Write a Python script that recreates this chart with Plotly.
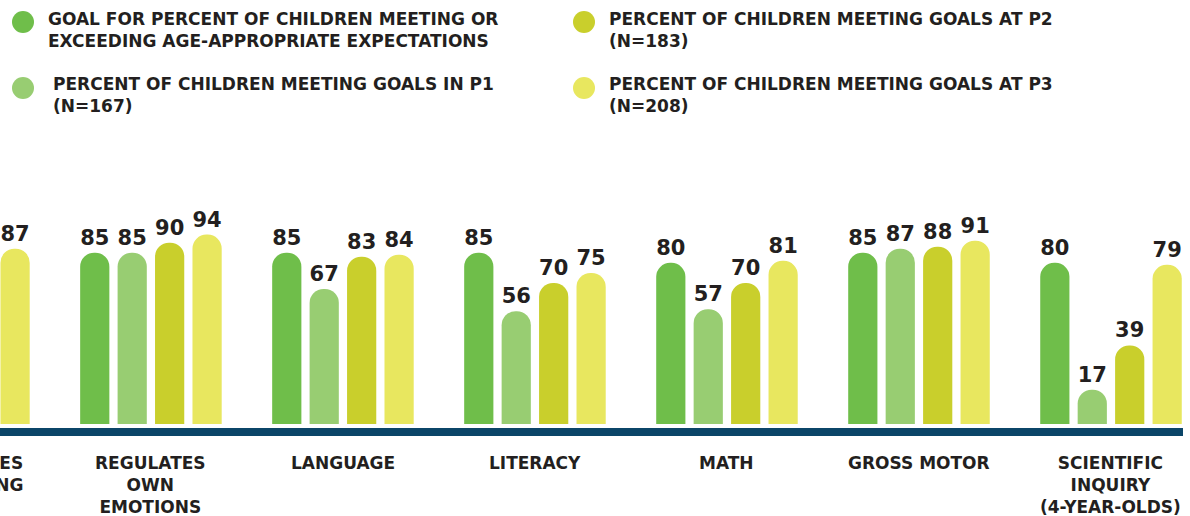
import plotly.graph_objects as go

categories = ["APPROACHES<br>TO LEARNING", "REGULATES<br>OWN<br>EMOTIONS", "LANGUAGE", "LITERACY",
              "MATH", "GROSS MOTOR", "SCIENTIFIC<br>INQUIRY<br>(4-YEAR-OLDS)"]
goal = [None, 85, 85, 85, 80, 85, 80]
p1 = [None, 85, 67, 56, 57, 87, 17]
p2 = [None, 90, 83, 70, 70, 88, 39]
p3 = [87, 94, 84, 75, 81, 91, 79]

series_names = [
    "GOAL FOR PERCENT OF CHILDREN MEETING OR<br>EXCEEDING AGE-APPROPRIATE EXPECTATIONS",
    "PERCENT OF CHILDREN MEETING GOALS IN P1<br>(N=167)",
    "PERCENT OF CHILDREN MEETING GOALS AT P2<br>(N=183)",
    "PERCENT OF CHILDREN MEETING GOALS AT P3<br>(N=208)",
]
colors = ["#6fbe4a", "#98cd72", "#c9cf2c", "#e8e75f"]
series = [goal, p1, p2, p3]

W, H = 1190, 516
ML, MR, MT, MB = 0, 7, 150, 88
PW, PH = W - ML - MR, H - MT - MB
XR = [0.214, 6.375]
YR = [-2, 136]

FONT = "DejaVu Sans"
TXT = "#231f20"

def px_x(x):
    return (x - ML) / PW

def px_y(y):
    return (H - MB - y) / PH

fig = go.Figure()
x_idx = list(range(len(categories)))
for name, vals, col in zip(series_names, series, colors):
    fig.add_trace(go.Bar(
        x=x_idx, y=vals, name=name, marker=dict(color=col, line=dict(width=0)),
        text=[("" if v is None else str(v)) for v in vals],
        textposition="outside", cliponaxis=False,
        textfont=dict(family=FONT, size=21, color=TXT, weight="bold"),
        showlegend=False, hoverinfo="skip",
    ))

# legend (custom, 2x2)
legend_pos = [(23, 22, 46, 7), (23, 88, 51, 72), (584, 22, 607, 7), (584, 88, 607, 72)]
for (cx, cy, tx, ty), name, col in zip(legend_pos, series_names, colors):
    fig.add_shape(type="circle", xref="paper", yref="paper", xsizemode="pixel", ysizemode="pixel",
                  xanchor=px_x(cx), yanchor=px_y(cy), x0=-11, x1=11, y0=-11, y1=11,
                  fillcolor=col, line=dict(width=0))
    fig.add_annotation(xref="paper", yref="paper", x=px_x(tx), y=px_y(ty), xanchor="left", yanchor="top",
                       text=name, showarrow=False, align="left",
                       font=dict(family=FONT, size=17, color=TXT, weight="bold"))

# category labels
cat_px = PW / (XR[1] - XR[0])
for i, c in enumerate(categories):
    if i < XR[0]:
        xa, xs = XR[0], (i - XR[0]) * cat_px
    else:
        xa, xs = i, 0
    fig.add_annotation(xref="x", yref="paper", x=xa, xshift=xs, y=px_y(451), yanchor="top",
                       text=c, showarrow=False, align="center",
                       font=dict(family=FONT, size=17, color=TXT, weight="bold"))

fig.update_layout(
    width=W, height=H, margin=dict(l=ML, r=MR, t=MT, b=MB),
    paper_bgcolor="white", plot_bgcolor="white",
    barmode="group", bargap=0.22, bargroupgap=0.22, barcornerradius="50%",
    xaxis=dict(range=XR, showgrid=False, zeroline=False, showticklabels=False, ticks="",
               showline=True, linecolor="#0b4568", linewidth=8, fixedrange=True),
    yaxis=dict(range=YR, visible=False, fixedrange=True),
)
fig.write_html("out.html", config={"displayModeBar": False},
               post_script="document.body.style.margin='0';")
